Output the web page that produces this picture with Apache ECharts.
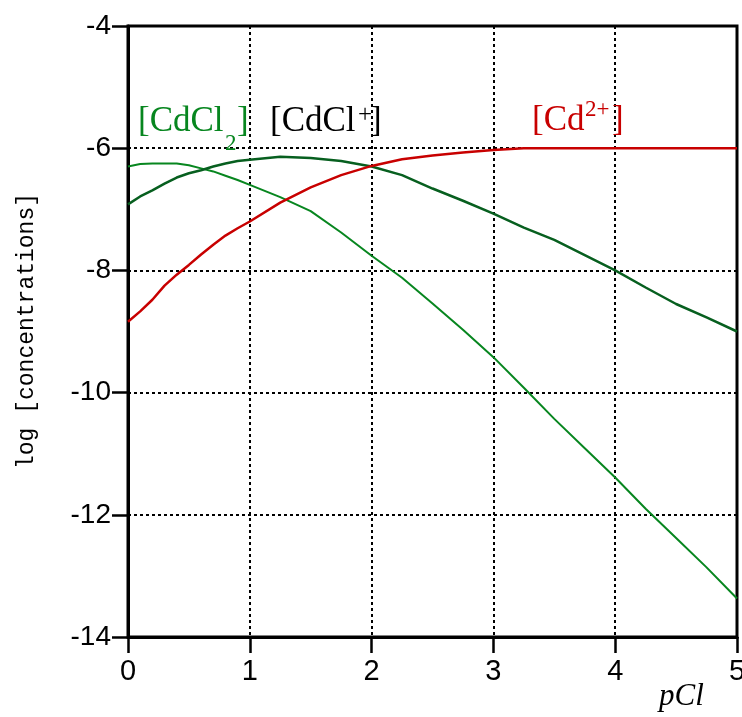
<!DOCTYPE html>
<html>
<head>
<meta charset="utf-8">
<title>log concentrations vs pCl</title>
<script src="https://cdn.jsdelivr.net/npm/echarts@6/dist/echarts.min.js"></script>
<style>
    html, body { margin: 0; padding: 0; background: #fff; }
    #chart { width: 742px; height: 717px; }
</style>
</head>
<body>
<div id="chart"></div>
<script>
var pCl = [0, 0.1, 0.2, 0.3, 0.4, 0.5, 0.6, 0.7, 0.8, 0.9, 1.0, 1.25, 1.5, 1.75, 2, 2.25, 2.5, 2.75, 3, 3.25, 3.5, 3.75, 4, 4.25, 4.5, 4.75, 5];
// log [CdCl2]
var cdcl2 = [-6.30, -6.26, -6.25, -6.25, -6.25, -6.28, -6.33, -6.38, -6.45, -6.52, -6.60, -6.80, -7.03, -7.38, -7.76, -8.12, -8.54, -8.97, -9.42, -9.92, -10.43, -10.91, -11.39, -11.90, -12.38, -12.86, -13.37];
// log [CdCl+]
var cdcl = [-6.92, -6.79, -6.69, -6.58, -6.48, -6.41, -6.36, -6.30, -6.25, -6.21, -6.19, -6.14, -6.16, -6.21, -6.30, -6.44, -6.66, -6.86, -7.07, -7.30, -7.50, -7.75, -8.00, -8.28, -8.55, -8.77, -9.00];
// log [Cd2+]
var cd = [-8.84, -8.67, -8.48, -8.25, -8.07, -7.91, -7.74, -7.58, -7.43, -7.31, -7.20, -6.89, -6.64, -6.44, -6.29, -6.18, -6.12, -6.07, -6.03, -6.00, -6.00, -6.00, -6.00, -6.00, -6.00, -6.00, -6.00];

var green = '#07861f',
    darkGreen = '#075f1f',
    red = '#c80000';

var pairs = function(ys) {
    var out = [];
    for (var i = 0; i < pCl.length; i++) {
        out.push([pCl[i], ys[i]]);
    }
    return out;
};

var chart = echarts.init(document.getElementById('chart'));

var serif = '"Liberation Serif", serif';
var lbl = function(text, x, y, font, color) {
    return {
        type: 'text',
        x: x,
        y: y,
        style: {
            text: text,
            fill: color,
            font: font,
            textAlign: 'left',
            textVerticalAlign: 'middle'
        },
        z: 10
    };
};

var option = {
    animation: false,
    backgroundColor: '#fff',
    grid: {
        left: 128,
        right: 5,
        top: 26,
        bottom: 80,
        outerBoundsMode: 'none',
        containLabel: false,
        show: true,
        borderColor: '#000',
        borderWidth: 3
    },
    xAxis: {
        type: 'value',
        min: 0,
        max: 5,
        interval: 1,
        axisLine: { show: true, onZero: false, lineStyle: { color: '#000', width: 3 } },
        axisTick: { show: true, inside: false, length: 16, lineStyle: { color: '#000', width: 2.5 } },
        axisLabel: {
            margin: 20,
            color: '#000',
            fontSize: 29,
            fontFamily: '"Liberation Sans", Arial, sans-serif'
        },
        splitLine: { show: true, lineStyle: { color: '#000', width: 2, type: [3, 3] } }
    },
    yAxis: {
        type: 'value',
        min: -14,
        max: -4,
        interval: 2,
        axisLine: { show: true, onZero: false, lineStyle: { color: '#000', width: 3 } },
        axisTick: { show: true, inside: false, length: 16, lineStyle: { color: '#000', width: 2.5 } },
        axisLabel: {
            margin: 17,
            color: '#000',
            fontSize: 28,
            fontFamily: '"Liberation Sans", Arial, sans-serif'
        },
        splitLine: { show: true, lineStyle: { color: '#000', width: 2, type: [3, 3] } }
    },
    series: [{
        name: '[CdCl2]',
        type: 'line',
        data: pairs(cdcl2),
        showSymbol: false,
        lineStyle: { color: green, width: 2 }
    }, {
        name: '[CdCl+]',
        type: 'line',
        data: pairs(cdcl),
        showSymbol: false,
        lineStyle: { color: darkGreen, width: 2.5 }
    }, {
        name: '[Cd2+]',
        type: 'line',
        data: pairs(cd),
        showSymbol: false,
        lineStyle: { color: red, width: 2.5 }
    }],
    graphic: [
        lbl('[CdCl', 138, 122, '35px ' + serif, green),
        lbl('2', 225, 144, '23px ' + serif, green),
        lbl(']', 237, 122, '35px ' + serif, green),
        lbl('[CdCl', 270, 122, '35px ' + serif, '#000'),
        lbl('+', 358, 115, '25px ' + serif, '#000'),
        lbl(']', 370, 122, '35px ' + serif, '#000'),
        lbl('[Cd', 532, 121, '35px ' + serif, red),
        lbl('2+', 585, 110, '23px ' + serif, red),
        lbl(']', 612, 121, '35px ' + serif, red),
        lbl('pCl', 659, 697, 'italic 31px ' + serif, '#000'),
        {
            type: 'text',
            x: 27,
            y: 331,
            rotation: Math.PI / 2,
            style: {
                text: 'log [concentrations]',
                fill: '#000',
                font: '23px "Liberation Mono", monospace',
                textAlign: 'center',
                textVerticalAlign: 'middle'
            }
        }
    ]
};

chart.setOption(option);
</script>
</body>
</html>
